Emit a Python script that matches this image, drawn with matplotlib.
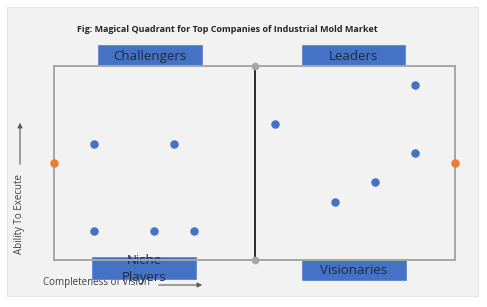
import matplotlib.pyplot as plt
from matplotlib.patches import Rectangle

W, H = 487, 307

# company positions (completeness of vision, ability to execute) on a 0-10 scale
vision = [1, 3, 1, 2.5, 3.5, 5.5, 9, 9, 8, 7]
execute = [6, 6, 1.5, 1.5, 1.5, 7, 9, 5.5, 4, 3]
# axis end markers
edge_x = [0, 10]
edge_y = [5, 5]
quadrants = ['Challengers', 'Leaders', 'Niche\nPlayers', 'Visionaries']

title = 'Fig: Magical Quadrant for Top Companies of Industrial Mold Market'
blue = '#4472c4'
orange = '#ed7d31'

fig = plt.figure(figsize=(W / 100, H / 100), dpi=100)
fig.patch.set_facecolor('white')

bg = fig.add_axes([0, 0, 1, 1])
bg.set_xlim(0, W)
bg.set_ylim(H, 0)
bg.axis('off')
bg.add_patch(Rectangle((7, 7), 471, 289, facecolor='#f2f2f2', edgecolor='#e4e4e4', lw=0.8))

bg.text(227, 30, title, ha='center', va='center', fontsize=6.5, fontweight='bold',
        color='#262626', family='Open Sans')

# quadrant plot
left, right, top, bottom = 54, 455, 66, 260
ax = fig.add_axes([left / W, 1 - bottom / H, (right - left) / W, (bottom - top) / H])
ax.set_xlim(0, 10)
ax.set_ylim(0, 10)
ax.patch.set_alpha(0)
for s in ax.spines.values():
    s.set_color('#a6a6a6')
    s.set_linewidth(1.4)
ax.set_xticks([])
ax.set_yticks([])
ax.plot([5, 5], [0, 10], color='#1a1a1a', lw=1.3, zorder=2)
ax.scatter([5, 5], [0, 10], s=20, color='#a6a6a6', zorder=3, clip_on=False)
ax.scatter(vision, execute, s=26, color=blue, zorder=4, clip_on=False)
ax.scatter(edge_x, edge_y, s=26, color=orange, zorder=4, clip_on=False)

# axis captions with arrows
bg.annotate('', xy=(20, 120), xytext=(20, 167),
            arrowprops=dict(arrowstyle='-|>', color='#595959', lw=0.8, mutation_scale=7))
bg.text(20, 214, 'Ability To Execute', rotation=90, ha='center', va='center',
        fontsize=7, color='#404040', family='Open Sans')
bg.text(43, 283, 'Completeness of Vision', ha='left', va='center',
        fontsize=7, color='#404040', family='Open Sans')
bg.annotate('', xy=(205, 285), xytext=(156, 285),
            arrowprops=dict(arrowstyle='-|>', color='#595959', lw=0.8, mutation_scale=7))

# quadrant labels
boxes = [(98, 45, 104, 21), (302, 45, 103, 21), (92, 257, 104, 22), (302, 259, 104, 21)]
for name, (x, y, w, h) in zip(quadrants, boxes):
    bg.add_patch(Rectangle((x, y), w, h, facecolor=blue, edgecolor='#5b86d0', lw=0.6, zorder=5))
    bg.text(x + w / 2, y + h / 2 + 1, name, ha='center', va='center', fontsize=9.5,
            color='#1f2a44', family='Open Sans', linespacing=1.45, zorder=6)

fig.savefig('out.png', dpi=100)
